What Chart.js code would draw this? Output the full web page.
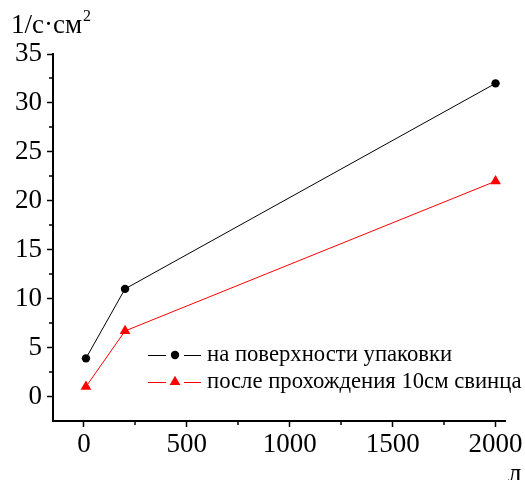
<!DOCTYPE html>
<html><head><meta charset="utf-8">
<script src="https://cdn.jsdelivr.net/npm/chart.js@4/dist/chart.umd.min.js"></script>
<style>html,body{margin:0;padding:0;background:#fff}#wrap{width:525px;height:480px;position:relative}</style>
</head><body><div id="wrap"><canvas id="c" width="525" height="480"></canvas></div>
<script>
const xValues = [10, 200, 2000];
const surfaceValues = [3.9, 11.0, 32.0];
const leadValues = [1.0, 6.7, 22.0];
const seriesLabels = ['на поверхности упаковки', 'после прохождения 10см свинца'];
const xTicks = [0, 500, 1000, 1500, 2000];
const yTicks = [0, 5, 10, 15, 20, 25, 30, 35];
const xMinorTicks = [250, 750, 1250, 1750];
const yMinorTicks = [2.5, 7.5, 12.5, 17.5, 22.5, 27.5, 32.5];
const yUnit = '1/с·см';
const yUnitSup = '2';
const xUnit = 'л';

const FONT = 'Liberation Serif';
Chart.defaults.font.family = FONT;

const extras = {
  id: 'extras',
  afterDraw(chart) {
    const ctx = chart.ctx;
    const xs = chart.scales.x, ys = chart.scales.y;
    const a = chart.chartArea;
    ctx.save();
    ctx.strokeStyle = '#000';
    ctx.lineWidth = 1.5;
    ctx.beginPath();
    xMinorTicks.forEach(v => { const p = Math.round(xs.getPixelForValue(v)); ctx.moveTo(p, a.bottom); ctx.lineTo(p, a.bottom + 4); });
    yMinorTicks.forEach(v => { const p = Math.round(ys.getPixelForValue(v)); ctx.moveTo(a.left, p); ctx.lineTo(a.left - 4, p); });
    ctx.stroke();

    // legend
    const rows = [355, 382];
    chart.data.datasets.forEach((ds, i) => {
      const y = rows[i];
      ctx.strokeStyle = ds.borderColor;
      ctx.lineWidth = 1;
      ctx.beginPath();
      ctx.moveTo(148, y + 0.5); ctx.lineTo(166, y + 0.5);
      ctx.moveTo(184, y + 0.5); ctx.lineTo(201, y + 0.5);
      ctx.stroke();
      ctx.fillStyle = ds.pointBackgroundColor;
      ctx.beginPath();
      if (ds.pointStyle === 'circle') {
        ctx.arc(175, y, ds.pointRadius, 0, Math.PI * 2);
      } else {
        const r = ds.pointRadius;
        ctx.moveTo(175, y - r);
        ctx.lineTo(175 + r * 0.866, y + r * 0.5);
        ctx.lineTo(175 - r * 0.866, y + r * 0.5);
        ctx.closePath();
      }
      ctx.fill();
      ctx.fillStyle = '#000';
      ctx.font = '22.7px "' + FONT + '"';
      ctx.textBaseline = 'middle';
      ctx.textAlign = 'left';
      ctx.fillText(ds.label, 207, y);
    });

    // units
    ctx.fillStyle = '#000';
    ctx.textBaseline = 'alphabetic';
    ctx.font = '27px "' + FONT + '"';
    ctx.fillText(yUnit, 11, 33);
    const w = ctx.measureText(yUnit).width;
    ctx.font = '16px "' + FONT + '"';
    ctx.fillText(yUnitSup, 11 + w + 1, 21);
    ctx.font = '27px "' + FONT + '"';
    ctx.fillText(xUnit, 508, 482);
    ctx.restore();
  }
};

new Chart(document.getElementById('c'), {
  type: 'line',
  data: {
    datasets: [
      {
        label: seriesLabels[0],
        data: xValues.map((x, i) => ({ x, y: surfaceValues[i] })),
        borderColor: '#000', backgroundColor: '#000',
        pointBackgroundColor: '#000', pointBorderWidth: 0,
        borderWidth: 1, pointStyle: 'circle', pointRadius: 4.2,
        tension: 0
      },
      {
        label: seriesLabels[1],
        data: xValues.map((x, i) => ({ x, y: leadValues[i] })),
        borderColor: '#ff0000', backgroundColor: '#ff0000',
        pointBackgroundColor: '#ff0000', pointBorderWidth: 0,
        borderWidth: 1, pointStyle: 'triangle', pointRadius: 6.2,
        tension: 0
      }
    ]
  },
  options: {
    responsive: false,
    devicePixelRatio: 1,
    animation: false,
    layout: { padding: { top: 54, right: 19, left: 0, bottom: 0 } },
    plugins: { legend: { display: false }, tooltip: { enabled: false } },
    scales: {
      x: {
        type: 'linear', min: -150, max: 2050,
        afterBuildTicks: s => { s.ticks = xTicks.map(v => ({ value: v })); },
        afterFit: s => { s.height = 59; },
        grid: { drawOnChartArea: false, drawTicks: true, tickLength: 6, color: '#000', tickWidth: 1.5 },
        border: { color: '#000', width: 2 },
        ticks: { color: '#000', font: { family: FONT, size: 27 }, padding: 2, maxRotation: 0, autoSkip: false,
                 callback: v => String(v) }
      },
      y: {
        type: 'linear', min: -2.5, max: 35,
        afterBuildTicks: s => { s.ticks = yTicks.map(v => ({ value: v })); },
        afterFit: s => { s.width = 53; },
        grid: { drawOnChartArea: false, drawTicks: true, tickLength: 6, color: '#000', tickWidth: 1.5 },
        border: { color: '#000', width: 2 },
        ticks: { color: '#000', font: { family: FONT, size: 27 }, padding: 5, autoSkip: false,
                 callback: v => String(v) }
      }
    }
  },
  plugins: [extras]
});
</script>
</body></html>
